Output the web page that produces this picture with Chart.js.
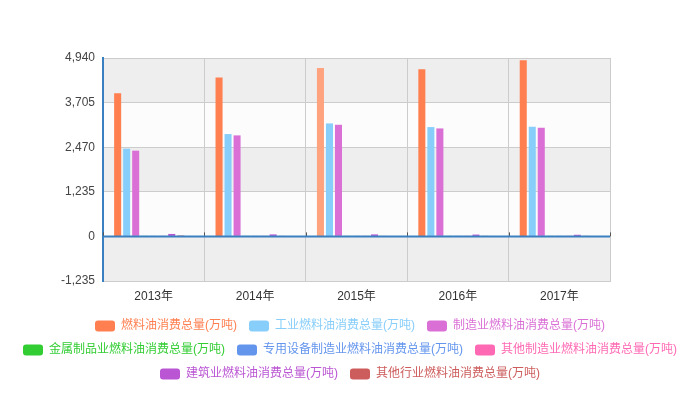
<!DOCTYPE html>
<html>
<head>
<meta charset="utf-8">
<script src="https://cdn.jsdelivr.net/npm/chart.js@4/dist/chart.umd.min.js"></script>
<style>
html,body{margin:0;padding:0;background:#fff;}
#wrap{width:700px;height:405px;}
</style>
</head>
<body>
<div id="wrap"><canvas id="c" width="700" height="405"></canvas></div>
<script>
const categories = ['2013年', '2014年', '2015年', '2016年', '2017年'];
const seriesNames = [
  '燃料油消费总量(万吨)',
  '工业燃料油消费总量(万吨)',
  '制造业燃料油消费总量(万吨)',
  '金属制品业燃料油消费总量(万吨)',
  '专用设备制造业燃料油消费总量(万吨)',
  '其他制造业燃料油消费总量(万吨)',
  '建筑业燃料油消费总量(万吨)',
  '其他行业燃料油消费总量(万吨)'
];
const fuelTotal = [3966, 4397, 4664, 4628, 4876];
const industryFuel = [2429, 2834, 3128, 3027, 3036];
const manufacturingFuel = [2374, 2797, 3091, 2990, 3008];
const metalProductsFuel = [5, 4, 4, 3, 3];
const specialEquipFuel = [2, 2, 2, 2, 2];
const otherManufacturingFuel = [2, 2, 2, 2, 2];
const constructionFuel = [68, 55, 55, 50, 45];
const otherIndustryFuel = [25, 15, 15, 10, 10];
const unnamedSeries = [null, null, null, null, null];
const yTicks = [-1235, 0, 1235, 2470, 3705, 4940];

const palette = ['#ff7f50','#87cefa','#da70d6','#32cd32','#6495ed','#ff69b4','#ba55d3','#cd5c5c','#ffa500'];
const allSeries = [fuelTotal, industryFuel, manufacturingFuel, metalProductsFuel, specialEquipFuel, otherManufacturingFuel, constructionFuel, otherIndustryFuel, unnamedSeries];
const FONT = "'Liberation Sans', 'Noto Sans CJK SC', sans-serif";
const AXIS_BLUE = '#3a7fc0';

const datasets = allSeries.map((d, i) => ({
  label: i < seriesNames.length ? seriesNames[i] : '',
  data: d,
  backgroundColor: i === 0 ? categories.map((c, j) => j === 2 ? '#ffa27e' : palette[0]) : palette[i],
  borderWidth: 0,
  categoryPercentage: 0.8,
  barPercentage: 0.78
}));

const bandPlugin = {
  id: 'bands',
  beforeDraw(chart) {
    const y = chart.scales.y, a = chart.chartArea, ctx = chart.ctx;
    ctx.save();
    for (let i = 0; i < yTicks.length - 1; i++) {
      const top = y.getPixelForValue(yTicks[i + 1]);
      const bot = y.getPixelForValue(yTicks[i]);
      ctx.fillStyle = (i % 2 === 0) ? '#eeeeee' : '#fcfcfc';
      ctx.fillRect(a.left, top, a.right - a.left, bot - top);
    }
    ctx.restore();
  },
  afterDatasetsDraw(chart) {
    const y = chart.scales.y, x = chart.scales.x, a = chart.chartArea, ctx = chart.ctx;
    const y0 = y.getPixelForValue(0);
    ctx.save();
    ctx.strokeStyle = '#555';
    ctx.lineWidth = 1;
    const step = (x.getPixelForValue(1) - x.getPixelForValue(0));
    for (let i = 0; i <= categories.length; i++) {
      const px = Math.round(x.getPixelForValue(0) - step / 2 + i * step) + 0.5;
      ctx.beginPath();
      ctx.moveTo(px, y0 - 4);
      ctx.lineTo(px, y0);
      ctx.stroke();
    }
    ctx.strokeStyle = AXIS_BLUE;
    ctx.lineWidth = 2;
    ctx.beginPath();
    ctx.moveTo(a.left, y0);
    ctx.lineTo(a.right, y0);
    ctx.stroke();
    ctx.restore();
  }
};

new Chart(document.getElementById('c'), {
  type: 'bar',
  data: { labels: categories, datasets },
  plugins: [bandPlugin],
  options: {
    responsive: false,
    animation: false,
    layout: { padding: { top: 58, right: 0, bottom: 15, left: 0 } },
    scales: {
      x: {
        grid: { offset: true, color: '#cccccc', drawTicks: false },
        border: { color: '#cccccc', width: 1 },
        ticks: { color: '#333', font: { family: FONT, size: 12 }, padding: 8 },
        afterFit(s) { s.height = 27; }
      },
      y: {
        min: -1235, max: 4940,
        afterBuildTicks(s) { s.ticks = yTicks.map(v => ({ value: v })); },
        grid: { color: '#cccccc', drawTicks: false },
        border: { color: AXIS_BLUE, width: 2 },
        ticks: { color: '#444', font: { family: FONT, size: 12 }, padding: 8,
          callback: v => v.toLocaleString('en-US') },
        afterFit(s) { s.width = 103; }
      },
      rightSpace: {
        type: 'linear',
        position: 'right',
        display: true,
        grid: { display: false, drawTicks: false },
        border: { display: false },
        ticks: { display: false },
        afterFit(s) { s.width = 90; }
      }
    },
    plugins: {
      tooltip: { enabled: false },
      legend: {
        position: 'bottom',
        labels: {
          boxWidth: 20, boxHeight: 11, padding: 12,
          useBorderRadius: true, borderRadius: 3,
          font: { family: FONT, size: 12 },
          filter: item => item.datasetIndex < seriesNames.length,
          generateLabels(chart) {
            return chart.data.datasets.map((ds, i) => ({
              text: ds.label,
              fillStyle: palette[i],
              strokeStyle: palette[i],
              lineWidth: 0,
              fontColor: palette[i],
              hidden: false,
              datasetIndex: i,
              borderRadius: 3
            }));
          }
        }
      }
    }
  }
});
</script>
</body>
</html>
